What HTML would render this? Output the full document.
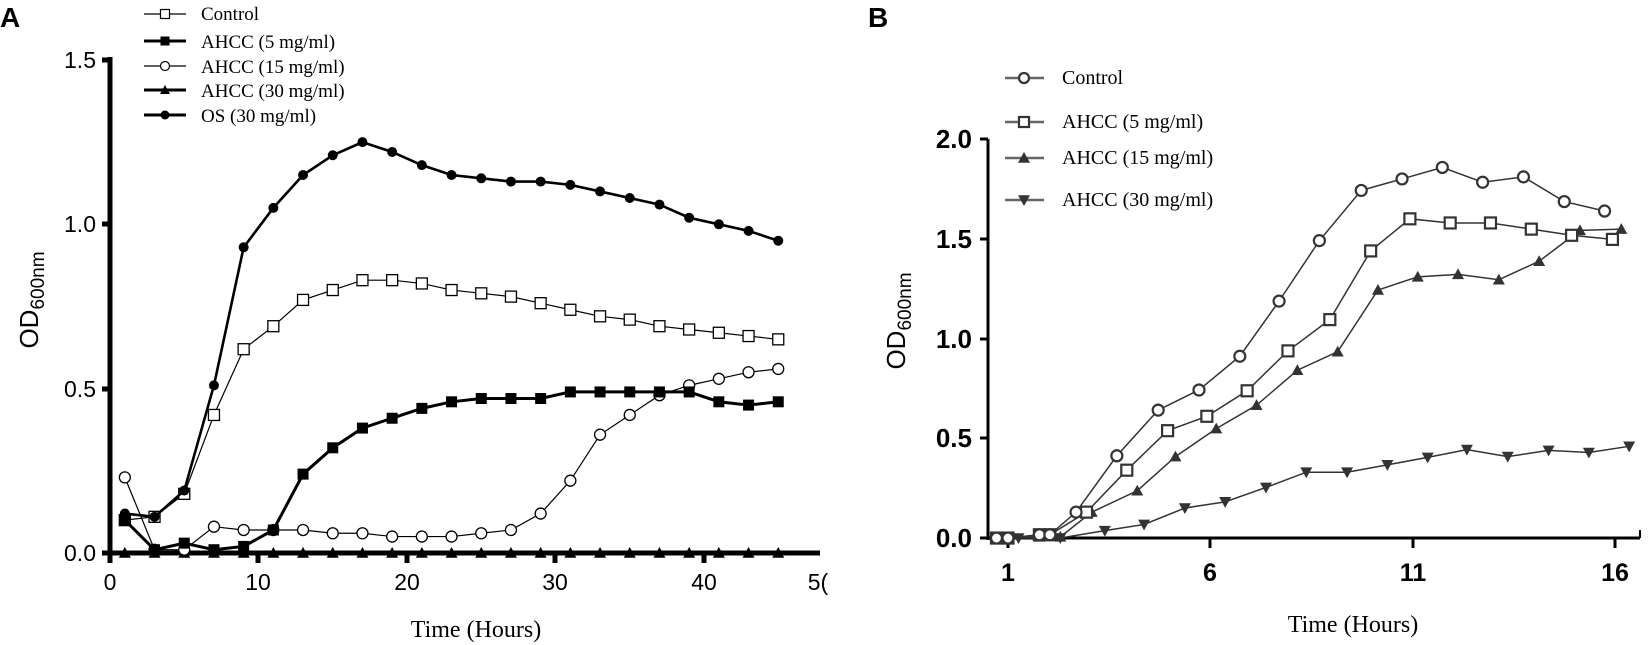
<!DOCTYPE html>
<html><head><meta charset="utf-8"><style>
html,body{margin:0;padding:0;background:#fff;}
svg{display:block;}
.serif{font-family:"Liberation Serif",serif;}
.sans{font-family:"Liberation Sans",sans-serif;}
</style></head><body>
<svg id="s" width="1650" height="645" xmlns="http://www.w3.org/2000/svg">
<rect width="1650" height="645" fill="#fff"/>
<text x="0" y="27" class="sans" font-size="28" font-weight="bold">A</text>
<text x="868" y="27" class="sans" font-size="28" font-weight="bold">B</text>
<line x1="110" y1="57" x2="110" y2="563" stroke="#000" stroke-width="5"/>
<line x1="102" y1="553" x2="820" y2="553" stroke="#000" stroke-width="5"/>
<g class="sans" font-size="23" text-anchor="end">
<text x="96" y="561">0.0</text><text x="96" y="397">0.5</text><text x="96" y="232">1.0</text><text x="96" y="68">1.5</text>
</g>
<g stroke="#000" stroke-width="5">
<line x1="102" y1="389" x2="110" y2="389"/><line x1="102" y1="224" x2="110" y2="224"/><line x1="102" y1="60" x2="110" y2="60"/>
<line x1="258" y1="553" x2="258" y2="563"/><line x1="407" y1="553" x2="407" y2="563"/><line x1="555" y1="553" x2="555" y2="563"/><line x1="704" y1="553" x2="704" y2="563"/>
</g>
<g class="sans" font-size="23" text-anchor="middle">
<text x="110" y="590">0</text><text x="258" y="590">10</text><text x="407" y="590">20</text><text x="555" y="590">30</text><text x="704" y="590">40</text><text x="818" y="590">5(</text>
</g>
<text x="476" y="637" class="serif" font-size="24" text-anchor="middle">Time (Hours)</text>
<text transform="translate(38,300) rotate(-90)" class="sans" font-size="26" text-anchor="middle">OD<tspan font-size="19" dy="6">600nm</tspan></text>
<g id="ga"></g>
<g class="serif" font-size="19">
<text x="201" y="20">Control</text><text x="201" y="48">AHCC (5 mg/ml)</text><text x="201" y="73">AHCC (15 mg/ml)</text><text x="201" y="97">AHCC (30 mg/ml)</text><text x="201" y="122">OS (30 mg/ml)</text>
</g>
<g id="la"></g>
<line x1="988" y1="139" x2="988" y2="540" stroke="#000" stroke-width="3"/>
<line x1="980" y1="538" x2="1640" y2="538" stroke="#000" stroke-width="3"/>
<line x1="1640" y1="538" x2="1640" y2="530" stroke="#000" stroke-width="2"/>
<g stroke="#000" stroke-width="3">
<line x1="980" y1="139" x2="988" y2="139"/><line x1="980" y1="239" x2="988" y2="239"/><line x1="980" y1="339" x2="988" y2="339"/><line x1="980" y1="438" x2="988" y2="438"/><line x1="980" y1="538" x2="988" y2="538"/>
<line x1="1008" y1="538" x2="1008" y2="548"/><line x1="1210" y1="538" x2="1210" y2="548"/><line x1="1413" y1="538" x2="1413" y2="548"/><line x1="1615" y1="538" x2="1615" y2="548"/>
</g>
<g class="sans" font-size="26" font-weight="bold" text-anchor="end">
<text x="972" y="547">0.0</text><text x="972" y="447">0.5</text><text x="972" y="348">1.0</text><text x="972" y="248">1.5</text><text x="972" y="148">2.0</text>
</g>
<g class="sans" font-size="25" font-weight="bold" text-anchor="middle">
<text x="1008" y="581">1</text><text x="1210" y="581">6</text><text x="1413" y="581">11</text><text x="1615" y="581">16</text>
</g>
<text x="1353" y="632" class="serif" font-size="24" text-anchor="middle">Time (Hours)</text>
<text transform="translate(905,321) rotate(-90)" class="sans" font-size="26" text-anchor="middle">OD<tspan font-size="19" dy="6">600nm</tspan></text>
<g class="serif" font-size="20">
<text x="1062" y="84">Control</text><text x="1062" y="128">AHCC (5 mg/ml)</text><text x="1062" y="164">AHCC (15 mg/ml)</text><text x="1062" y="206">AHCC (30 mg/ml)</text>
</g>
<g id="gb"></g>
</svg>
<script>
var NS="http://www.w3.org/2000/svg";
function el(p,t,a){var e=document.createElementNS(NS,t);for(var k in a)e.setAttribute(k,a[k]);p.appendChild(e);return e;}
function mk(g,type,x,y,s,col,sw){
 if(type=="sqo")el(g,"rect",{x:x-s,y:y-s,width:2*s,height:2*s,fill:"#fff",stroke:col,"stroke-width":sw});
 else if(type=="sqf")el(g,"rect",{x:x-s,y:y-s,width:2*s,height:2*s,fill:col});
 else if(type=="co")el(g,"circle",{cx:x,cy:y,r:s,fill:"#fff",stroke:col,"stroke-width":sw});
 else if(type=="cf")el(g,"circle",{cx:x,cy:y,r:s,fill:col});
 else if(type=="tu")el(g,"polygon",{points:(x-s)+","+(y+s*0.8)+" "+(x+s)+","+(y+s*0.8)+" "+x+","+(y-s),fill:col});
 else if(type=="td")el(g,"polygon",{points:(x-s)+","+(y-s*0.8)+" "+(x+s)+","+(y-s*0.8)+" "+x+","+(y+s),fill:col});
}
function series(g,pts,type,col,lw,s,sw){
 el(g,"polyline",{points:pts.map(function(p){return p[0]+","+p[1]}).join(" "),fill:"none",stroke:col,"stroke-width":lw});
 pts.forEach(function(p){mk(g,type,p[0],p[1],s,col,sw);});
}
var ga=document.getElementById("ga");
function A(vals){return vals.map(function(v,i){return [110+(1+2*i)*14.85,553-v*328.7];});}
var z=[];for(var i=0;i<23;i++)z.push(0);
series(ga,A(z),"tu","#000",3,6,1);
series(ga,A([0.23,0.01,0.01,0.08,0.07,0.07,0.07,0.06,0.06,0.05,0.05,0.05,0.06,0.07,0.12,0.22,0.36,0.42,0.48,0.51,0.53,0.55,0.56]),"co","#000",1.2,5.5,1.3);
series(ga,A([0.10,0.11,0.18,0.42,0.62,0.69,0.77,0.80,0.83,0.83,0.82,0.80,0.79,0.78,0.76,0.74,0.72,0.71,0.69,0.68,0.67,0.66,0.65]),"sqo","#000",1.2,5.5,1.3);
series(ga,A([0.10,0.01,0.03,0.01,0.02,0.07,0.24,0.32,0.38,0.41,0.44,0.46,0.47,0.47,0.47,0.49,0.49,0.49,0.49,0.49,0.46,0.45,0.46]),"sqf","#000",3,5.5,1);
series(ga,A([0.12,0.11,0.19,0.51,0.93,1.05,1.15,1.21,1.25,1.22,1.18,1.15,1.14,1.13,1.13,1.12,1.10,1.08,1.06,1.02,1.00,0.98,0.95]),"cf","#000",2.6,5,1);
var la=document.getElementById("la");
[["sqo",1.2,14],["sqf",3,41],["co",1.2,66],["tu",3,90],["cf",3,115]].forEach(function(r){
 el(la,"line",{x1:144,y1:r[2],x2:186,y2:r[2],stroke:"#000","stroke-width":r[1]});
 mk(la,r[0],165,r[2],r[0]=="tu"?5:4.5,"#000",1.2);
});
var gb=document.getElementById("gb");
function B(a){return a.map(function(p){return [1008+(p[0]-340)*0.5233,p[1]/2.431];});}
var col="#333";
series(gb,B([[318,1308],[360,1308],[440,1308],[525,1290],[600,1275],[678,1235],[755,1220],[833,1185],[910,1148],[988,1148],[1065,1130],[1142,1112],[1217,1093],[1295,1110],[1373,1095],[1450,1100],[1527,1085]]),"td",col,1.5,6,1);
series(gb,B([[318,1308],[340,1308],[400,1305],[440,1305],[500,1245],[587,1193],[660,1110],[738,1042],[815,985],[893,900],[970,855],[1047,705],[1123,673],[1200,667],[1278,680],[1355,635],[1433,560],[1512,557]]),"tu",col,1.5,6,1);
series(gb,B([[318,1308],[340,1308],[400,1300],[420,1300],[490,1245],[567,1143],[645,1047],[720,1012],[797,950],[875,853],[955,777],[1033,610],[1108,532],[1185,542],[1262,542],[1340,557],[1417,572],[1495,582]]),"sqo",col,1.5,5.5,2.2);
series(gb,B([[318,1308],[340,1308],[400,1300],[420,1300],[470,1245],[548,1108],[627,997],[705,948],[783,866],[858,732],[935,585],[1015,463],[1093,435],[1170,407],[1247,443],[1325,430],[1403,490],[1480,513]]),"co",col,1.5,5.5,2.2);
[["co",78],["sqo",122],["tu",158],["td",200]].forEach(function(r){
 el(gb,"line",{x1:1005,y1:r[1],x2:1044,y2:r[1],stroke:"#666","stroke-width":2.5});
 mk(gb,r[0],1024,r[1],r[0][0]=="t"?6:5,col,2.2);
});
</script>
</body></html>
